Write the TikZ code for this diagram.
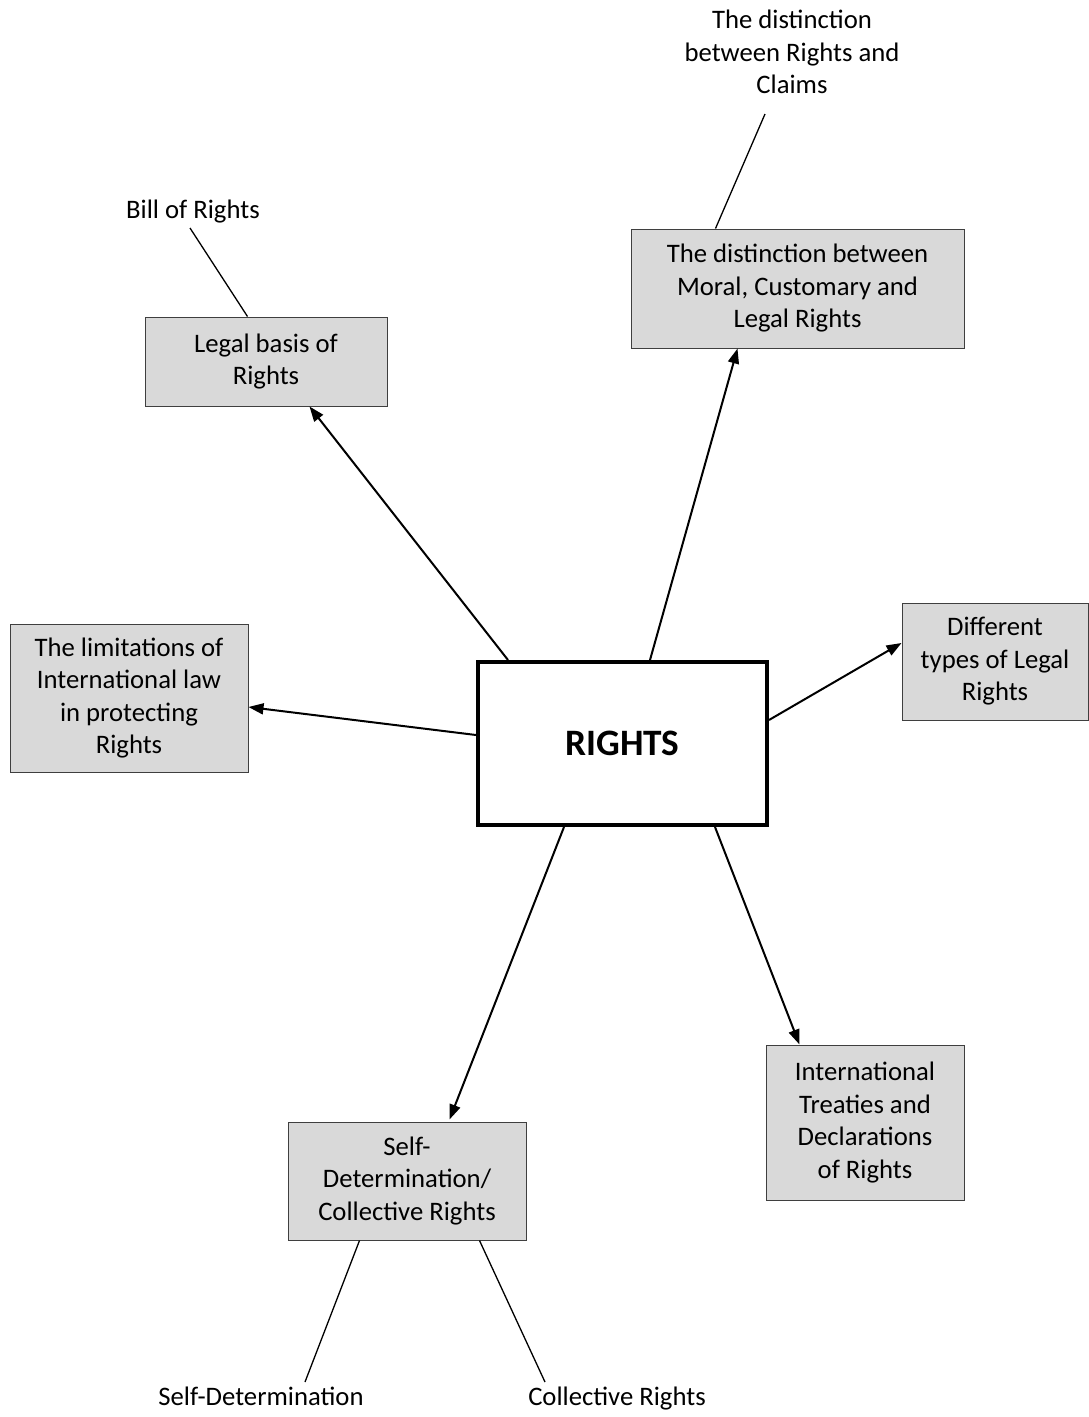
\documentclass[tikz,border=0pt]{standalone}
\usepackage{fontspec}
\setmainfont{Carlito}
\usetikzlibrary{arrows.meta}
\definecolor{boxgray}{HTML}{D9D9D9}
\definecolor{boxline}{HTML}{3F3F3F}
\begin{document}
\begin{tikzpicture}[x=1pt,y=-1pt,
  topic/.style={draw=boxline,line width=1pt,fill=boxgray,align=center,
    inner sep=0pt,font=\fontsize{26.7}{32.5}\selectfont},
  hub/.style={draw=black,line width=4pt,fill=white,align=center,inner sep=0pt,
    font=\fontsize{37.3}{44}\selectfont\bfseries},
  leaf/.style={align=center,inner sep=0pt,font=\fontsize{26.7}{32.5}\selectfont},
  link/.style={line width=2pt,-{Triangle[length=15pt,width=11pt]}},
  twig/.style={line width=1.3pt}]
\useasboundingbox (0,0) rectangle (1089,1417);

% central topic
\node[hub,minimum width=289pt,minimum height=163pt] (rights) at (622.5,743.5) {RIGHTS};

% surrounding topics
\node[topic,minimum width=242pt,minimum height=89pt] (legal) at (266,361.5)
  {Legal basis of\\Rights};
\node[topic,minimum width=333pt,minimum height=119pt] (moral) at (797.5,288.5)
  {The distinction between\\Moral, Customary and\\Legal Rights};
\node[topic,minimum width=238pt,minimum height=148pt] (limit) at (129,698)
  {The limitations of\\International law\\in protecting\\Rights};
\node[topic,minimum width=186pt,minimum height=117pt] (types) at (995,661.5)
  {Different\\types of Legal\\Rights};
\node[topic,minimum width=198pt,minimum height=155pt] (treaty) at (865,1122.5)
  {International\\Treaties and\\Declarations\\of Rights};
\node[topic,minimum width=238pt,minimum height=118pt] (selfbox) at (407,1181)
  {Self-\\Determination/\\Collective Rights};

% sub-topic labels
\node[leaf] (claims) at (792,52) {The distinction\\between Rights and\\Claims};
\node[leaf,anchor=base] (bill) at (193,218.5) {Bill of Rights};
\node[leaf,anchor=base] (selfdet) at (261,1405.5) {Self-Determination};
\node[leaf,anchor=base] (collect) at (617,1405.5) {Collective Rights};

\coordinate (claimsend) at (765,114);
\coordinate (billend) at (190,228);
\coordinate (selfdetend) at (305,1382);
\coordinate (collectend) at (545,1382);

% arrows from the central topic
\draw[link] ([xshift=32pt]rights.north west) -- ([xshift=165pt]legal.south west);
\draw[link] ([xshift=174pt]rights.north west) -- ([xshift=107pt]moral.south west);
\draw[link] ([yshift=8.5pt]rights.west) -- ([yshift=-9pt]limit.east);
\draw[link] ([yshift=23.5pt]rights.east) -- ([yshift=18.5pt]types.west);
\draw[link] ([xshift=88pt]rights.south west) -- ([xshift=162pt,yshift=2pt]selfbox.north west);
\draw[link] ([xshift=239pt]rights.south west) -- ([xshift=34pt]treaty.north west);

% plain lines to sub-topics
\draw[twig] ([xshift=85pt]moral.north west) -- (claimsend);
\draw[twig] ([xshift=103pt]legal.north west) -- (billend);
\draw[twig] ([xshift=72pt]selfbox.south west) -- (selfdetend);
\draw[twig] ([xshift=192pt]selfbox.south west) -- (collectend);
\end{tikzpicture}
\end{document}
